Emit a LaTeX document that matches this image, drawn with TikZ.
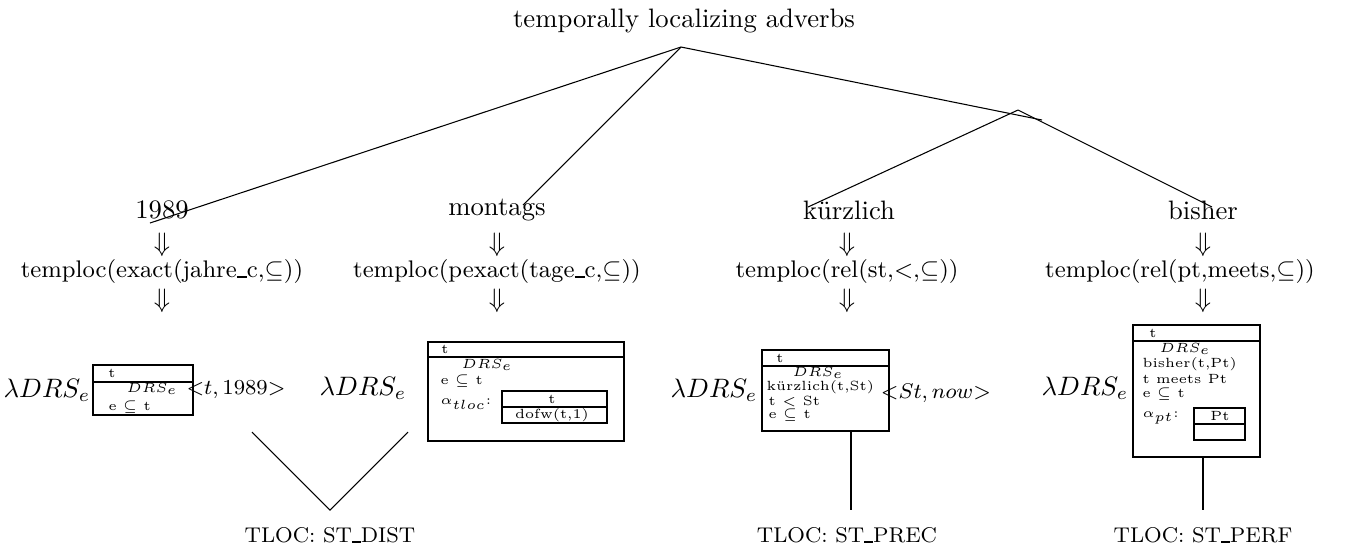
\documentclass[tikz,border=0pt]{standalone}
\usepackage{amssymb}
\newcommand{\lowbar}{\rule[-0.3pt]{0.42em}{0.55pt}}
\begin{document}
\begin{tikzpicture}[x=0.375pt,y=-0.375pt,
  lab/.style={font=\fontsize{10}{12}\selectfont, inner sep=0pt},
  tl/.style={font=\fontsize{9}{11}\selectfont, inner sep=0pt},
  arr/.style={font=\fontsize{10}{12}\selectfont, inner sep=0pt},
  small/.style={font=\fontsize{5}{6}\selectfont, inner sep=0pt},
  mid8/.style={font=\fontsize{8}{9}\selectfont, inner sep=0pt},
  bot/.style={font=\fontsize{8}{9}\selectfont, inner sep=0pt},
  boxline/.style={line width=0.8pt},
  treeline/.style={line width=0.4pt},
  stem/.style={line width=0.7pt}]
\useasboundingbox (0,0) rectangle (1355,549);

% title and tree
\node[lab] (top) at (684,21) {temporally localizing adverbs};
\coordinate (apex) at (681,47);
\coordinate (junc) at (1018,110);
\coordinate (over) at (1042,120);
\node[lab] (l1) at (162,210) {1989};
\node[lab] (l2) at (497,210) {montags};
\node[lab] (l3) at (849,210) {k\"urzlich};
\node[lab] (l4) at (1203,210) {bisher};
\coordinate (e1) at (150,223);
\coordinate (e2) at (523,205);
\coordinate (e3) at (808,207);
\coordinate (e4) at (1212,207);
\draw[treeline] (apex) -- (e1);
\draw[treeline] (apex) -- (e2);
\draw[treeline] (apex) -- (over);
\draw[treeline] (junc) -- (e3);
\draw[treeline] (junc) -- (e4);

% arrows and temploc
\node[arr] (a1) at (162,245) {$\Downarrow$};
\node[arr] (a2) at (497,245) {$\Downarrow$};
\node[arr] (a3) at (847,245) {$\Downarrow$};
\node[arr] (a4) at (1203,245) {$\Downarrow$};
\node[tl] (t1) at (162,271) {temploc(exact(jahre\lowbar c,$\subseteq$))};
\node[tl] (t2) at (497,271) {temploc(pexact(tage\lowbar c,$\subseteq$))};
\node[tl] (t3) at (847,271) {temploc(rel(st,$<$,$\subseteq$))};
\node[tl] (t4) at (1180,271) {temploc(rel(pt,meets,$\subseteq$))};
\node[arr] (b1) at (162,301) {$\Downarrow$};
\node[arr] (b2) at (497,301) {$\Downarrow$};
\node[arr] (b3) at (847,301) {$\Downarrow$};
\node[arr] (b4) at (1203,301) {$\Downarrow$};

% box 1
\node[lab] (lam1) at (47,390) {$\lambda DRS_e$};
\draw[boxline] (93,365) rectangle (193,415);
\draw[boxline] (93,382) -- (193,382);
\node[small] (x1t) at (112,373) {t};
\node[small] (x1d) at (152,389) {$DRS_e$};
\node[small,anchor=west] (x1c) at (108,407) {e $\subseteq$ t};
\node[mid8] (arg1) at (236,390) {${<}t,1989{>}$};

% box 2
\node[lab] (lam2) at (363,388) {$\lambda DRS_e$};
\draw[boxline] (428,342) rectangle (624,441);
\draw[boxline] (428,357) -- (624,357);
\node[small] (x2t) at (445,349) {t};
\node[small] (x2d) at (487,365) {$DRS_e$};
\node[small,anchor=west] (x2c) at (440,381) {e $\subseteq$ t};
\node[small,anchor=west] (x2a) at (440,404) {$\alpha_{tloc}$:};
\draw[boxline] (502,391) rectangle (607,423);
\draw[boxline] (502,407) -- (607,407);
\node[small] (x2it) at (552,399) {t};
\node[small] (x2id) at (552,415) {dofw(t,1)};

% box 3
\node[lab] (lam3) at (714,390) {$\lambda DRS_e$};
\draw[boxline] (762,350) rectangle (889,431);
\draw[boxline] (762,366) -- (889,366);
\node[small] (x3t) at (780,358) {t};
\node[small] (x3d) at (818,373) {$DRS_e$};
\node[small,anchor=west] (x3k) at (766,387) {k\"urzlich(t,St)};
\node[small,anchor=west] (x3l) at (768,401) {t $<$ St};
\node[small,anchor=west] (x3c) at (768,415) {e $\subseteq$ t};
\node[mid8] (arg3) at (936,393) {${<}St,now{>}$};

% box 4
\node[lab] (lam4) at (1085,388) {$\lambda DRS_e$};
\draw[boxline] (1133,325) rectangle (1260,457);
\draw[boxline] (1133,341) -- (1260,341);
\node[small] (x4t) at (1153,333) {t};
\node[small] (x4d) at (1185,349) {$DRS_e$};
\node[small,anchor=west] (x4b) at (1142,364) {bisher(t,Pt)};
\node[small,anchor=west] (x4m) at (1142,379) {t meets Pt};
\node[small,anchor=west] (x4c) at (1142,394) {e $\subseteq$ t};
\node[small,anchor=west] (x4a) at (1142,418) {$\alpha_{pt}$:};
\draw[boxline] (1194,408) rectangle (1245,440);
\draw[boxline] (1194,424) -- (1245,424);
\node[small] (x4it) at (1220,416) {Pt};

% lower connectors
\coordinate (v1) at (252,432);
\coordinate (v0) at (330,510);
\coordinate (v2) at (408,432);
\draw[treeline] (v1) -- (v0) -- (v2);
\coordinate (s3a) at (851,431);
\coordinate (s3b) at (851,510);
\draw[stem] (s3a) -- (s3b);
\coordinate (s4a) at (1203,457);
\coordinate (s4b) at (1203,510);
\draw[stem] (s4a) -- (s4b);

% bottom labels
\node[bot] (r1) at (330,535) {TLOC: ST\lowbar DIST};
\node[bot] (r3) at (847,535) {TLOC: ST\lowbar PREC};
\node[bot] (r4) at (1203,535) {TLOC: ST\lowbar PERF};
\end{tikzpicture}
\end{document}
